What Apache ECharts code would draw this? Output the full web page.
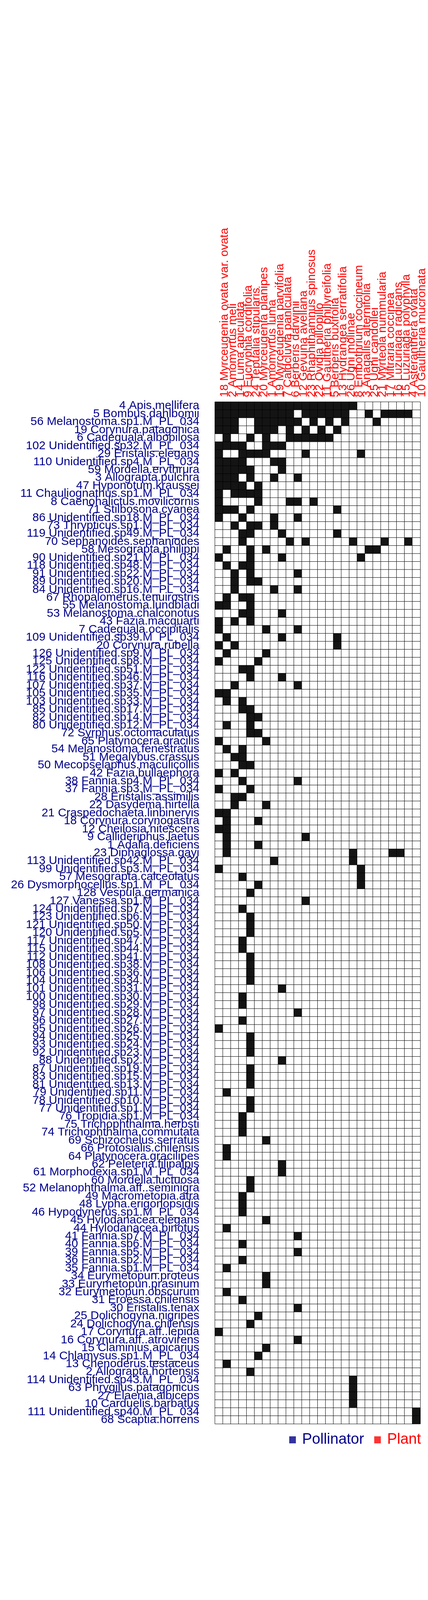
<!DOCTYPE html>
<html>
<head>
<meta charset="utf-8">
<script src="https://cdn.jsdelivr.net/npm/echarts@6/dist/echarts.min.js"></script>
<style>
  html, body { margin: 0; padding: 0; background: #fff; }
  #chart { width: 1095px; height: 4200px; }
</style>
</head>
<body>
<div id="chart"></div>
<script>
// plants (columns, left to right)
const plants = [
  '18 Myrceugenia ovata var. ovata', '2 Amomyrtus meli', '14 Luma apiculata',
  '9 Eucryphia cordifolia', '24 Tepualia stipularis', '20 Myrceugenia planipes',
  '1 Amomyrtus luma', '19 Myrceugenia parvifolia', '7 Caldcluvia paniculata',
  '6 Berberis darwinii', '12 Gevuina avellana', '23 Rhaphithamnus spinosus',
  '22 Ovidia pillopillo', '11 Gaultheria phillyreifolia', '5 Berberis buxifolia',
  '13 Hydrangea serratifolia', '26 Ugni molinae', '8 Embothrium coccineum',
  '3 Anagallis alternifolia', '25 Ugni candollei', '21 Myrteola nummularia',
  '17 Mitraria coccinea', '16 Luzuriaga radicans', '15 Luzuriaga polyphylla',
  '4 Asteranthera ovata', '10 Gaultheria mucronata'
];

// pollinators (rows, top to bottom)
const pollinators = [
  '4 Apis.mellifera', '5 Bombus.dahlbomii', '56 Melanostoma.sp1.M_PL_034',
  '19 Corynura.patagonica', '6 Cadeguala.albopilosa', '102 Unidentified.sp32.M_PL_034',
  '29 Eristalis.elegans', '110 Unidentified.sp4.M_PL_034', '59 Mordella.erythrura',
  '3 Allograpta.pulchra', '47 Hyponotum.kraussei', '11 Chauliognathus.sp1.M_PL_034',
  '8 Caenohalictus.movilicornis', '71 Stilbosona.cyanea', '86 Unidentified.sp18.M_PL_034',
  '73 Thrypticus.sp1.M_PL_034', '119 Unidentified.sp49.M_PL_034', '70 Sephanoides.sephaniodes',
  '58 Mesograpta.philippi', '90 Unidentified.sp21.M_PL_034', '118 Unidentified.sp48.M_PL_034',
  '91 Unidentified.sp22.M_PL_034', '89 Unidentified.sp20.M_PL_034', '84 Unidentified.sp16.M_PL_034',
  '67 Rhopalomerus.tenuirostris', '55 Melanostoma.lundbladi', '53 Melanostoma.chalconotus',
  '43 Fazia.macquarti', '7 Cadeguala.occipitalis', '109 Unidentified.sp39.M_PL_034',
  '20 Corynura.rubella', '126 Unidentified.sp9.M_PL_034', '125 Unidentified.sp8.M_PL_034',
  '122 Unidentified.sp51.M_PL_034', '116 Unidentified.sp46.M_PL_034', '107 Unidentified.sp37.M_PL_034',
  '105 Unidentified.sp35.M_PL_034', '103 Unidentified.sp33.M_PL_034', '85 Unidentified.sp17.M_PL_034',
  '82 Unidentified.sp14.M_PL_034', '80 Unidentified.sp12.M_PL_034', '72 Syrphus.octomaculatus',
  '65 Platynocera.gracilis', '54 Melanostoma.fenestratus', '51 Megalybus.crassus',
  '50 Mecopselaphus.maculicollis', '42 Fazia.bullaephora', '38 Fannia.sp4.M_PL_034',
  '37 Fannia.sp3.M_PL_034', '28 Eristalis.assimilis', '22 Dasydema.hirtella',
  '21 Craspedochaeta.linbinervis', '18 Corynura.corynogastra', '12 Cheilosia.nitescens',
  '9 Callideriphus.laetus', '1 Adalia.deficiens', '23 Diphaglossa.gayi',
  '113 Unidentified.sp42.M_PL_034', '99 Unidentified.sp3.M_PL_034', '57 Mesograpta.calceolatus',
  '26 Dysmorphocellus.sp1.M_PL_034', '128 Vespula.germanica', '127 Vanessa.sp1.M_PL_034',
  '124 Unidentified.sp7.M_PL_034', '123 Unidentified.sp6.M_PL_034', '121 Unidentified.sp50.M_PL_034',
  '120 Unidentified.sp5.M_PL_034', '117 Unidentified.sp47.M_PL_034', '115 Unidentified.sp44.M_PL_034',
  '112 Unidentified.sp41.M_PL_034', '108 Unidentified.sp38.M_PL_034', '106 Unidentified.sp36.M_PL_034',
  '104 Unidentified.sp34.M_PL_034', '101 Unidentified.sp31.M_PL_034', '100 Unidentified.sp30.M_PL_034',
  '98 Unidentified.sp29.M_PL_034', '97 Unidentified.sp28.M_PL_034', '96 Unidentified.sp27.M_PL_034',
  '95 Unidentified.sp26.M_PL_034', '94 Unidentified.sp25.M_PL_034', '93 Unidentified.sp24.M_PL_034',
  '92 Unidentified.sp23.M_PL_034', '88 Unidentified.sp2.M_PL_034', '87 Unidentified.sp19.M_PL_034',
  '83 Unidentified.sp15.M_PL_034', '81 Unidentified.sp13.M_PL_034', '79 Unidentified.sp11.M_PL_034',
  '78 Unidentified.sp10.M_PL_034', '77 Unidentified.sp1.M_PL_034', '76 Tropidia.sp1.M_PL_034',
  '75 Trichophthalma.herbsti', '74 Trichophthalma.commutata', '69 Schizochelus.serratus',
  '66 Protosialis.chilensis', '64 Platynocera.gracilipes', '62 Peleteria.filipalpis',
  '61 Morphodexia.sp1.M_PL_034', '60 Mordella.luctuosa', '52 Melanophthalma.aff..seminigra',
  '49 Macrometopia.atra', '48 Lypha.erigonopsidis', '46 Hypodynerus.sp1.M_PL_034',
  '45 Hylodanacea.elegans', '44 Hylodanacea.binotus', '41 Fannia.sp7.M_PL_034',
  '40 Fannia.sp6.M_PL_034', '39 Fannia.sp5.M_PL_034', '36 Fannia.sp2.M_PL_034',
  '35 Fannia.sp1.M_PL_034', '34 Eurymetopun.proteus', '33 Eurymetopun.prasinum',
  '32 Eurymetopun.obscurum', '31 Eroessa.chilensis', '30 Eristalis.tenax',
  '25 Dolichogyna.nigripes', '24 Dolichogyna.chilensis', '17 Corynura.aff..lepida',
  '16 Corynura.aff..atrovirens', '15 Claminius.apicarius', '14 Chlamysus.sp1.M_PL_034',
  '13 Chenoderus.testaceus', '2 Allograpta.hortensis', '114 Unidentified.sp43.M_PL_034',
  '63 Phrygilus.patagonicus', '27 Elaenia.albiceps', '10 Carduelis.barbatus',
  '111 Unidentified.sp40.M_PL_034', '68 Scaptia.horrens'
];

// for each pollinator row: the plant columns (1-based) it visits
const links = [
  [1,2,3,4,5,6,7,8,9,10,11,12,13,14,15,16,17,18],
  [1,2,3,4,5,6,7,8,9,10,12,13,14,15,16,17,20,22,23,24,25],
  [1,2,3,6,7,8,9,10,11,13,15,17,21],
  [1,2,3,6,7,8,10,12,14,16],
  [2,5,7,10,11,12,13,14,15],
  [1,2,3,4,7,8,9],
  [1,4,5,6,7,12,19],
  [1,2,3,4,8,9],
  [1,2,3,4,5,9],
  [1,2,3,5,8,11],
  [1,2,3,4,6],
  [1,3,4,5,6],
  [1,6,10,11,13],
  [1,2,3,5,16],
  [1,4,8,11],
  [3,5,6,8],
  [4,5,9,16],
  [4,10,12,18,22,25],
  [2,5,7,20,21],
  [1,5,9,19],
  [2,4,5], [3,5,11], [3,5,6], [3,8,11], [2,4,5], [1,2,5], [4,5,9], [1,3,5],
  [1,7,11], [2,9,16], [1,3,16],
  [2,7], [1,6], [4,5], [5,9], [3,11], [1,2], [2,4], [4,5], [5,6], [2,5], [5,6],
  [1,7], [2,4], [3,4], [4,5], [1,3], [4,11], [1,5], [3,4], [3,7], [1,2], [2,6],
  [1,2], [2,12], [2,6],
  [2,18,23,24],
  [8,18], [1,19], [4,19], [6,19],
  [5], [12], [4], [5], [5], [5], [4], [4], [5], [5], [5], [5], [9], [4], [4],
  [11], [4], [1], [5], [5], [5], [9], [5], [5], [5], [2], [5], [5], [4],
  [4], [4], [7], [2], [2], [9], [9], [5], [5], [4], [4], [4], [7], [2],
  [11], [4], [11], [4], [2], [7], [7], [2], [4], [11], [6], [5], [1], [11],
  [7], [6], [2], [5], [18], [18], [18], [18], [26], [26]
];

const fontFamily = '"Liberation Sans", Arial, sans-serif';

const cells = [];
pollinators.forEach(function (p, i) {
  plants.forEach(function (q, j) {
    cells.push([j, i, links[i].indexOf(j + 1) >= 0 ? 1 : 0]);
  });
});

const myChart = echarts.init(document.getElementById('chart'), null, { renderer: 'canvas' });

myChart.setOption({
  backgroundColor: '#fff',
  animation: false,
  grid: {
    left: 550,
    top: 1029,
    width: 532,
    height: 2616
  },
  xAxis: {
    type: 'category',
    position: 'top',
    data: plants,
    axisLine: { show: false },
    axisTick: { show: false },
    splitLine: { show: false },
    axisLabel: {
      interval: 0,
      rotate: -90,
      margin: 12,
      verticalAlign: 'top',
      color: '#ff0000',
      fontSize: 30,
      fontFamily
    }
  },
  yAxis: {
    type: 'category',
    inverse: true,
    data: pollinators,
    axisLine: { show: false },
    axisTick: { show: false },
    splitLine: { show: false },
    axisLabel: {
      interval: 0,
      margin: 40,
      color: '#00008b',
      fontSize: 30,
      fontFamily
    }
  },
  visualMap: {
    show: false,
    type: 'piecewise',
    seriesIndex: 0,
    dimension: 2,
    pieces: [
      { value: 0, color: '#ffffff' },
      { value: 1, color: '#141414' }
    ]
  },
  legend: {
    right: 13,
    top: 3662,
    icon: 'rect',
    itemWidth: 17,
    itemHeight: 18,
    itemGap: 26,
    selectedMode: false,
    textStyle: {
      fontSize: 38,
      fontFamily,
      padding: [0, 0, 0, 11]
    },
    data: [
      { name: 'Pollinator', textStyle: { color: '#00008b' } },
      { name: 'Plant', textStyle: { color: '#ff0000' } }
    ]
  },
  series: [
    {
      type: 'heatmap',
      data: cells,
      itemStyle: { borderColor: '#000', borderWidth: 1 },
      emphasis: { disabled: true }
    },
    { name: 'Pollinator', type: 'scatter', data: [], itemStyle: { color: '#00008b' } },
    { name: 'Plant', type: 'scatter', data: [], itemStyle: { color: '#ff0000' } }
  ]
});
</script>
</body>
</html>
